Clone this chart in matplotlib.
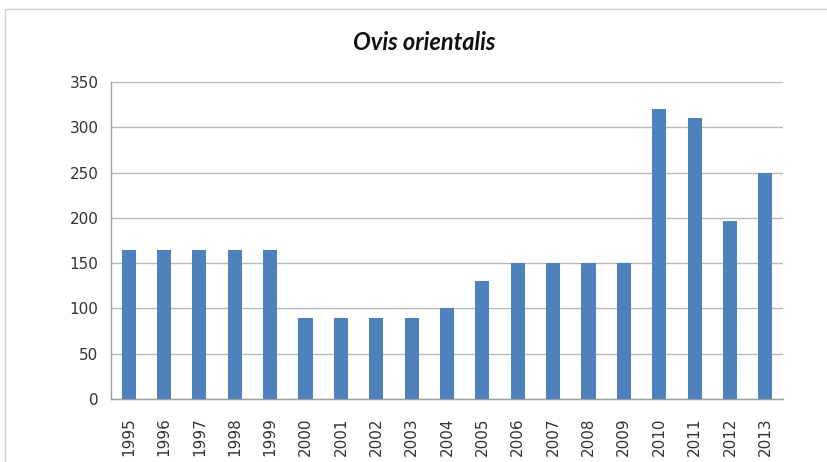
import matplotlib
matplotlib.use("Agg")
import matplotlib.pyplot as plt
from matplotlib.patches import Rectangle

years = ["1995", "1996", "1997", "1998", "1999", "2000", "2001", "2002", "2003", "2004",
         "2005", "2006", "2007", "2008", "2009", "2010", "2011", "2012", "2013"]
values = [165, 165, 165, 165, 165, 89, 89, 89, 89, 100,
          130, 150, 150, 150, 150, 320, 310, 197, 250]
yticks = [0, 50, 100, 150, 200, 250, 300, 350]

W, H = 827, 462
fig = plt.figure(figsize=(W / 100, H / 100), dpi=100)
fig.patch.set_facecolor("white")

# chart border
fig.patches.append(Rectangle((5 / W, -0.1), 1.1, 1 - 9 / H + 0.1, transform=fig.transFigure,
                             fill=False, edgecolor="#d0d0d0", linewidth=1.0))

ax = fig.add_axes([111 / W, 1 - 399 / H, (783 - 111) / W, (399 - 82) / H])
x = list(range(len(years)))
ax.bar(x, values, width=0.4, color="#4F81BD", zorder=3)
ax.set_xlim(-0.5, len(years) - 0.5)
ax.set_ylim(0, 350)
ax.set_yticks(yticks)
ax.set_yticklabels([str(v) for v in yticks], fontsize=11, family="DejaVu Sans", color="#333333")
ax.set_xticks(x)
ax.set_xticklabels(years, rotation=90, fontsize=11, family="DejaVu Sans", color="#333333")
ax.tick_params(axis="both", length=0)
ax.tick_params(axis="y", pad=9)
ax.tick_params(axis="x", pad=13)
ax.yaxis.grid(True, color="#b8b8b8", linewidth=1.0, zorder=0)
ax.set_axisbelow(True)
for s in ["top", "right"]:
    ax.spines[s].set_visible(False)
for s in ["left", "bottom"]:
    ax.spines[s].set_color("#a0a0a0")
    ax.spines[s].set_linewidth(1.0)

fig.text(424 / W, 1 - 42 / H, "Ovis orientalis", ha="center", va="center",
         fontsize=17, style="italic", weight="bold", family="Lato", color="#111111")

fig.savefig("out.png", dpi=100)
